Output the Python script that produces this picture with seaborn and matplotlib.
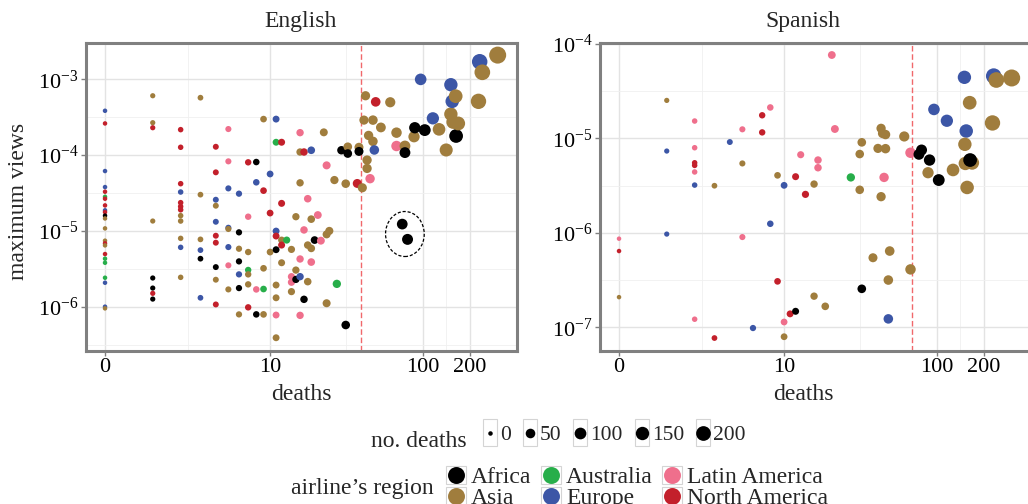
import numpy as np
import pandas as pd
import matplotlib
matplotlib.use("Agg")
import matplotlib.pyplot as plt
import matplotlib.ticker as mticker
import seaborn as sns
from matplotlib.patches import Ellipse, Rectangle
from matplotlib.lines import Line2D
from matplotlib.legend_handler import HandlerBase

# ---------------- data ----------------
REGION_CODES = ["AF", "AS", "AU", "EU", "LA", "NA"]
REGIONS = ["Africa", "Asia", "Australia", "Europe", "Latin America", "North America"]
REGION_COLORS = ["#000000", "#A07D3D", "#27AE4A", "#3C56A6", "#EF6F8C", "#C3202B"]

en_deaths = [0]*23 + [1]*8 + [2]*12 + [3]*6 + [4]*10 + [5]*8 + [6]*7 + [7]*7 + [8]*4 + [9]*5 + [10]*3 + [11]*9 + [12]*5 + [
    13, 14, 14, 14, 14, 15, 15, 15, 16, 16, 16, 16, 16, 16, 17, 17, 17, 18, 18, 18, 19, 19, 19, 19,
    20, 21, 22, 23, 24, 24, 24, 25, 27, 28, 30, 32, 32, 33, 33, 38, 39, 39, 41, 42, 43, 44, 44, 45, 46,
    48, 48, 49, 50, 54, 62, 68, 68, 74, 77, 77, 80, 88, 89, 97, 103, 116, 127, 141, 151, 151, 154,
    156, 162, 163, 168, 226, 230, 239, 299]
en_views = [
    3.85e-4, 2.62e-4, 6.17e-5, 3.79e-5, 3.29e-5, 2.82e-5, 2.66e-5, 2.17e-5, 1.87e-5, 1.77e-5, 1.59e-5,
    1.46e-5, 1.08e-5, 7.43e-6, 6.85e-6, 6.44e-6, 4.95e-6, 4.30e-6, 3.80e-6, 2.41e-6, 2.07e-6, 1.0e-6, 9.5e-7,
    6.08e-4, 2.68e-4, 2.30e-4, 1.35e-5, 2.39e-6, 1.76e-6, 1.50e-6, 1.26e-6,
    2.17e-4, 1.27e-4, 4.20e-5, 3.26e-5, 2.36e-5, 2.10e-5, 1.90e-5, 1.59e-5, 1.35e-5, 7.97e-6, 6.07e-6, 2.44e-6,
    5.73e-4, 3.01e-5, 7.73e-6, 5.58e-6, 4.30e-6, 1.31e-6,
    1.29e-4, 5.93e-5, 2.58e-5, 2.15e-5, 1.32e-5, 8.64e-6, 6.99e-6, 3.33e-6, 2.27e-6, 1.07e-6,
    2.21e-4, 8.28e-5, 3.64e-5, 1.10e-5, 1.06e-5, 6.12e-6, 3.51e-6, 1.69e-6,
    3.10e-5, 9.57e-6, 5.82e-6, 3.96e-6, 2.67e-6, 1.76e-6, 7.91e-7,
    8.04e-5, 1.54e-5, 5.26e-6, 3.05e-6, 2.67e-6, 1.97e-6, 9.80e-7,
    8.11e-5, 4.38e-5, 1.69e-6, 7.91e-7,
    2.99e-4, 3.40e-5, 3.21e-6, 1.71e-6, 7.91e-7,
    5.64e-5, 1.72e-5, 5.26e-6,
    2.99e-4, 1.48e-4, 9.95e-6, 8.55e-6, 5.65e-6, 1.93e-6, 1.31e-6, 7.76e-7, 3.89e-7,
    1.48e-4, 2.31e-5, 7.57e-6, 6.50e-6, 3.80e-6,
    7.57e-6, 5.70e-6, 2.49e-6, 2.10e-6, 1.58e-6, 1.54e-5, 3.04e-6, 2.29e-6,
    1.98e-4, 1.10e-4, 4.31e-5, 4.26e-6, 2.49e-6, 7.68e-7, 1.10e-4, 1.03e-5, 1.25e-6,
    2.66e-5, 6.50e-6, 2.14e-6, 1.16e-4, 1.43e-5, 5.88e-6, 3.88e-6,
    7.57e-6, 1.62e-5, 7.43e-6, 2.00e-4, 7.33e-5, 9.0e-6, 1.11e-6, 1.0e-5, 4.69e-5, 2.0e-6, 1.16e-4,
    4.20e-5, 5.73e-7, 1.29e-4, 1.05e-4, 4.23e-5, 1.27e-4, 1.12e-4, 3.71e-5, 2.90e-4, 6.08e-4,
    8.61e-5, 6.68e-5, 1.82e-4, 4.89e-5, 2.90e-4, 1.52e-4, 1.17e-4, 5.05e-4, 2.32e-4, 4.99e-4,
    1.32e-4, 1.98e-4, 1.23e-5, 1.32e-4, 1.08e-4, 7.73e-6, 1.75e-4, 2.30e-4, 1.0e-3, 2.14e-4,
    3.06e-4, 2.19e-4, 1.17e-4, 3.48e-4, 8.50e-4, 5.13e-4, 2.73e-4, 6.0e-4, 1.79e-4, 2.62e-4,
    5.13e-4, 1.71e-3, 1.24e-3, 2.09e-3]
en_region = (
    "EU NA EU EU NA AU NA NA EU NA AF AS AS AS NA AS NA AU AU AU EU EU AS "
    "AS AS NA AS AF AF NA AF "
    "NA NA NA EU NA NA NA AS AS AS EU AS "
    "AS AS AS EU AF EU "
    "NA NA EU AS EU NA NA AF AS NA "
    "LA LA EU EU AS EU LA AS "
    "EU AF AS AF EU AF AS "
    "NA LA AS AU AS AS NA "
    "AF EU LA AF "
    "AS NA AS AU AS "
    "EU NA AS "
    "EU AU EU NA AF AS AS LA AS "
    "NA NA AS NA AS "
    "AU AS LA LA AS AS AS AF "
    "LA AS AS LA EU LA NA LA AF "
    "LA AS AS EU AS AS LA "
    "AF LA LA AS LA AS AS AS AS AU AF "
    "AS AF AS AF NA AS AF AS AS AS "
    "AS AS AS LA AS AS EU NA AS AS "
    "LA AS AF AS AF AF AS AF EU AF "
    "EU AS AS AS EU EU AS AS AF AS "
    "AS EU AS AS").split()

es_deaths = [0, 0, 0, 1, 1, 1, 2, 2, 2, 2, 2, 2, 2, 3, 3, 4, 5, 5, 5, 6, 7, 7, 8, 8, 9, 9,
             10, 10, 10, 11, 12, 12, 13, 14, 16, 16, 17, 17, 19, 21, 22, 28, 32, 32, 33, 33,
             39, 42, 44, 44, 45, 47, 47, 50, 49, 49, 46, 62, 68, 68, 80, 77, 90, 88, 103, 96,
             116, 127, 150, 162, 154, 151, 152, 168, 163, 156, 226, 230, 239, 299]
es_views = [8.69e-7, 6.43e-7, 2.09e-7, 2.53e-5, 7.36e-6, 9.72e-7, 1.53e-5, 7.98e-6, 5.53e-6,
            5.19e-6, 4.42e-6, 3.21e-6, 1.22e-7, 3.16e-6, 7.71e-8, 9.17e-6, 1.25e-5, 5.44e-6,
            9.04e-7, 9.84e-8, 1.76e-5, 1.16e-5, 2.13e-5, 1.25e-6, 4.07e-6, 3.07e-7, 3.19e-6,
            1.14e-7, 7.96e-8, 1.39e-7, 1.48e-7, 3.94e-6, 6.73e-6, 2.56e-6, 3.29e-6, 2.14e-7,
            5.91e-6, 4.90e-6, 1.67e-7, 7.65e-5, 1.26e-5, 3.87e-6, 6.84e-6, 2.86e-6, 9.10e-6,
            2.56e-7, 5.46e-7, 7.85e-6, 1.28e-5, 2.42e-6, 1.13e-5, 1.10e-5, 7.80e-6, 6.43e-7,
            3.17e-7, 1.23e-7, 3.87e-6, 1.05e-5, 4.11e-7, 7.06e-6, 7.55e-6, 6.79e-6, 5.91e-6,
            4.34e-6, 3.63e-6, 2.03e-5, 1.54e-5, 4.64e-6, 4.44e-5, 2.39e-5, 1.20e-5, 8.67e-6,
            5.44e-6, 5.53e-6, 5.91e-6, 3.03e-6, 1.46e-5, 4.58e-5, 4.16e-5, 4.37e-5]
es_region = (
    "LA NA AS AS EU EU LA LA NA NA LA EU LA AS NA EU LA AS LA EU NA NA LA EU AS NA "
    "EU LA AS NA AF NA LA NA AS AS LA LA AS LA LA AU AS AS AS AF "
    "AS AS AS AS AS AS AS AS AS EU LA AS AS LA AF AF AF AS AF EU "
    "EU AS EU AS EU AS AS AS AF AS AS EU AS AS").split()

# threshold lines and highlighted crashes
en_threshold = 40
es_threshold = 70
highlight_deaths = [74, 80]

# legend values
size_breaks = [0, 50, 100, 150, 200]

# ---------------- styling ----------------
sns.set_style("white")
plt.rcParams["font.family"] = ["Liberation Serif", "DejaVu Serif"]
plt.rcParams["mathtext.fontset"] = "custom"
plt.rcParams["mathtext.rm"] = "Liberation Serif"
plt.rcParams["mathtext.it"] = "Liberation Serif:italic"
plt.rcParams["mathtext.bf"] = "Liberation Serif:bold"

code2name = dict(zip(REGION_CODES, REGIONS))
palette = dict(zip(REGIONS, REGION_COLORS))

df_en = pd.DataFrame({"deaths": en_deaths, "views": en_views,
                      "region": [code2name[c] for c in en_region]})
df_es = pd.DataFrame({"deaths": es_deaths, "views": es_views,
                      "region": [code2name[c] for c in es_region]})

max_d = max(max(en_deaths), max(es_deaths))
D_MIN, D_MAX = 4.5, 17.0  # diameters in px


def diam_px(d):
    return D_MIN + (D_MAX - D_MIN) * np.sqrt(d / max_d)


def area_pt2(d):
    return (diam_px(d) * 0.72) ** 2


all_d = sorted(set(en_deaths) | set(es_deaths))
size_map = {d: area_pt2(d) for d in all_d}


def fwd(x):
    return np.log10(np.clip(np.asarray(x, dtype=float) + 1.0, 1e-12, None))


def inv(y):
    return 10.0 ** np.asarray(y, dtype=float) - 1.0


W, H = 1028, 504
fig = plt.figure(figsize=(W / 100, H / 100), dpi=100)

ax_top, ax_bot = 42.7, 350.7
panels = [
    (df_en, 86, (10 ** -6.581, 10 ** -2.516), en_threshold, "English", 301),
    (df_es, 600, (10 ** -7.247, 10 ** -3.986), es_threshold, "Spanish", 803),
]

xmaj = [0, 10, 100, 200]
tx = fwd(xmaj)
xmin_minor = list(inv((tx[:-1] + tx[1:]) / 2))

GRAY = "#808080"
axes = []
for df, left_px, ylim, thr, title, cx in panels:
    ax = fig.add_axes([left_px / W, (H - ax_bot) / H, 431 / W, (ax_bot - ax_top) / H])
    sns.scatterplot(data=df, x="deaths", y="views", hue="region", hue_order=REGIONS,
                    palette=palette, size="deaths", sizes=size_map, legend=False,
                    linewidth=0, edgecolor="none", ax=ax, zorder=3)
    ax.set_xscale("function", functions=(fwd, inv))
    ax.set_yscale("log")
    ax.set_xlim(inv(-0.12), inv(2.599))
    ax.set_ylim(*ylim)
    ax.xaxis.set_major_locator(mticker.FixedLocator(xmaj))
    ax.xaxis.set_major_formatter(mticker.FixedFormatter([str(v) for v in xmaj]))
    ax.xaxis.set_minor_locator(mticker.FixedLocator(xmin_minor))
    ax.yaxis.set_major_locator(mticker.LogLocator(base=10, numticks=20))
    ax.yaxis.set_major_formatter(mticker.LogFormatterMathtext())
    ax.yaxis.set_minor_locator(mticker.LogLocator(base=10, subs=(10 ** 0.5,), numticks=20))
    ax.yaxis.set_minor_formatter(mticker.NullFormatter())
    ax.grid(True, which="major", color="#E3E3E3", linewidth=1.0, zorder=0)
    ax.grid(True, which="minor", color="#F0F0F0", linewidth=0.6, zorder=0)
    ax.set_axisbelow(True)
    for sp in ax.spines.values():
        sp.set_color(GRAY)
        sp.set_linewidth(2.2)
        sp.set_visible(True)
    ax.tick_params(which="major", direction="out", length=3.5, width=1.0, color=GRAY,
                   labelsize=16, pad=2, bottom=True, left=True, labelcolor="black")
    ax.tick_params(which="minor", length=0)
    ax.set_xlabel("")
    ax.set_ylabel("")
    ax.axvline(thr, color="#F0686B", linestyle=(0, (4, 2)), linewidth=1.0, zorder=2)
    fig.text(cx / W, (H - 27.3) / H, title, ha="center", va="baseline", fontsize=17)
    fig.text(cx / W, (H - 400) / H, "deaths", ha="center", va="baseline", fontsize=17)
    axes.append(ax)

# highlight ellipse around two crashes in the English panel (in scaled coordinates)
ax = axes[0]
hl = df_en[(df_en["region"] == "Africa") & (df_en["deaths"].isin(highlight_deaths))]
ex = float(np.mean(fwd(hl["deaths"].values)))
ey = float(np.mean(np.log10(hl["views"].values)))
ell = Ellipse((ex, ey - 0.03), width=0.244, height=0.594, fill=False, edgecolor="black",
              linestyle=(0, (2.5, 1.5)), linewidth=0.9, zorder=4,
              transform=ax.transLimits + ax.transAxes)
ax.add_patch(ell)

fig.text(18.5 / W, (H - 201) / H, "maximum views", rotation=90, ha="center", va="center",
         fontsize=17)


# ---------------- legends ----------------
class KeyBox(HandlerBase):
    def create_artists(self, legend, orig_handle, xdescent, ydescent, width, height,
                       fontsize, trans):
        rect = Rectangle((-xdescent, -ydescent), width, height, facecolor="white",
                         edgecolor="#D4D4D4", linewidth=0.8, transform=trans)
        m = Line2D([-xdescent + width / 2], [-ydescent + height / 2], marker="o",
                   linestyle="none", markersize=orig_handle.get_markersize(),
                   markerfacecolor=orig_handle.get_markerfacecolor(),
                   markeredgecolor="none", transform=trans)
        return [rect, m]


size_handles = [Line2D([], [], marker="o", linestyle="none", markersize=diam_px(v) * 0.72,
                       markerfacecolor="black") for v in size_breaks]
leg1 = fig.legend(size_handles, [str(v) for v in size_breaks], loc="upper left",
                  bbox_to_anchor=(483 / W, (H - 419) / H), ncol=5, frameon=False,
                  fontsize=15.5, handlelength=10 / 15.5, handleheight=24.5 / 15.5,
                  handletextpad=0.15, columnspacing=0.55, borderpad=0, borderaxespad=0,
                  handler_map={Line2D: KeyBox()})
fig.text(467 / W, (H - 447) / H, "no. deaths", ha="right", va="baseline", fontsize=17)

reg_handles = [Line2D([], [], marker="o", linestyle="none", markersize=12.2,
                      markerfacecolor=c) for c in REGION_COLORS]
leg2 = fig.legend(reg_handles, REGIONS, loc="upper left",
                  bbox_to_anchor=(446 / W, (H - 466) / H), ncol=3, frameon=False,
                  fontsize=17, handlelength=0.85, handleheight=0.8, handletextpad=0.21,
                  columnspacing=0.4, labelspacing=-0.06, borderpad=0, borderaxespad=0,
                  handler_map={Line2D: KeyBox()})
fig.text(434 / W, (H - 494) / H, "airline\u2019s region", ha="right", va="baseline",
         fontsize=17)

fig.savefig("out.png", dpi=100)
